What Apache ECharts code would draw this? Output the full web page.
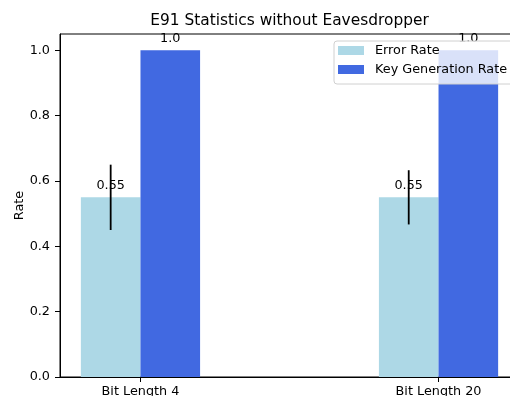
<!DOCTYPE html>
<html>
<head>
<meta charset="utf-8">
<script src="https://cdn.jsdelivr.net/npm/echarts@6/dist/echarts.min.js"></script>
<style>
  html, body { margin: 0; padding: 0; background: #fff; overflow: hidden; width: 510px; height: 396px; }
  /* the figure is wider than the window; its right part falls outside the view */
  #chart { width: 560px; height: 396px; }
</style>
</head>
<body>
<div id="chart"></div>
<script>
// Categories and measured rates
const categories = ['Bit Length 4', 'Bit Length 20'];
const errorRate = [0.55, 0.55];
const errorRateStd = [0.10, 0.083];
const keyGenRate = [1.0, 1.0];
const yTickValues = [0, 0.2, 0.4, 0.6, 0.8, 1.0];

// Bar geometry in category units (centre of each group at its index)
const barUnits = 0.2;
const xMin = -0.27, xMax = 1.27;
const gridLeft = 60, gridTop = 34, gridWidth = 459, gridHeight = 343;
const barPx = barUnits * gridWidth / (xMax - xMin);

const FONT = 'DejaVu Sans';
const FS = 12.8;
const fmtVal = v => Number.isInteger(v) ? v.toFixed(1) : String(v);

const errData = errorRate.map((v, i) => [i - barUnits / 2, v]);
const keyData = keyGenRate.map((v, i) => [i + barUnits / 2, v]);
const errBars = errorRate.map((v, i) => [i - barUnits / 2, v - errorRateStd[i], v + errorRateStd[i]]);

const chart = echarts.init(document.getElementById('chart'), null, { renderer: 'canvas' });
chart.setOption({
  animation: false,
  backgroundColor: '#fff',
  textStyle: { fontFamily: FONT },
  title: {
    text: 'E91 Statistics without Eavesdropper',
    left: 284.5,
    textAlign: 'center',
    top: 8,
    textStyle: { fontFamily: FONT, fontSize: 15.4, fontWeight: 'normal', color: '#000' }
  },
  // legend frame, semi-transparent over the bars
  graphic: [{
    type: 'rect',
    z: 3,
    shape: { x: 334, y: 41, width: 190, height: 43, r: 3 },
    style: { fill: 'rgba(255,255,255,0.8)', stroke: '#d0d0d0', lineWidth: 1 }
  }],
  legend: {
    left: 334,
    top: 41,
    orient: 'vertical',
    data: ['Error Rate', 'Key Generation Rate'],
    icon: 'rect',
    itemWidth: 26,
    itemHeight: 9,
    itemGap: 6,
    padding: [3, 0, 6, 4],
    textStyle: { fontFamily: FONT, fontSize: FS, color: '#000', padding: [0, 0, 0, 6] }
  },
  grid: {
    left: gridLeft, top: gridTop, width: gridWidth, height: gridHeight,
    outerBoundsMode: 'none',
    containLabel: false,
    show: true, borderColor: '#000', borderWidth: 1, backgroundColor: 'transparent'
  },
  xAxis: {
    type: 'value',
    min: xMin,
    max: xMax,
    splitLine: { show: false },
    axisLine: { show: true, onZero: false, lineStyle: { color: '#000', width: 1 } },
    axisTick: { show: true, length: 5, customValues: [0, 1], lineStyle: { color: '#000' } },
    axisLabel: {
      customValues: [0, 1],
      margin: 8,
      fontFamily: FONT, fontSize: FS, color: '#000',
      formatter: v => categories[Math.round(v)]
    }
  },
  yAxis: {
    type: 'value',
    min: 0,
    max: 1.05,
    name: 'Rate',
    nameLocation: 'middle',
    nameGap: 34,
    nameMoveOverlap: false,
    nameTextStyle: { fontFamily: FONT, fontSize: FS, color: '#000' },
    splitLine: { show: false },
    axisLine: { show: true, onZero: false, lineStyle: { color: '#000', width: 1 } },
    axisTick: { show: true, length: 5, customValues: yTickValues, lineStyle: { color: '#000' } },
    axisLabel: {
      customValues: yTickValues,
      margin: 10,
      fontFamily: FONT, fontSize: FS, color: '#000',
      formatter: v => v.toFixed(1)
    }
  },
  series: [
    {
      name: 'Error Rate',
      type: 'bar',
      data: errData,
      barWidth: barPx,
      barGap: '-100%',
      itemStyle: { color: '#ADD8E6' },
      label: {
        show: true, position: 'top', distance: 5,
        fontFamily: FONT, fontSize: FS, color: '#000',
        formatter: p => fmtVal(p.value[1])
      }
    },
    {
      name: 'Key Generation Rate',
      type: 'bar',
      data: keyData,
      barWidth: barPx,
      barGap: '-100%',
      itemStyle: { color: '#4169E1' },
      label: {
        show: true, position: 'top', distance: 5,
        fontFamily: FONT, fontSize: FS, color: '#000',
        formatter: p => fmtVal(p.value[1])
      }
    },
    {
      name: 'errorbars',
      type: 'custom',
      z: 5,
      data: errBars,
      encode: { x: 0, y: [1, 2] },
      renderItem: (params, api) => {
        const x = api.value(0);
        const lo = api.coord([x, api.value(1)]);
        const hi = api.coord([x, api.value(2)]);
        return {
          type: 'line',
          shape: { x1: lo[0], y1: lo[1], x2: hi[0], y2: hi[1] },
          style: { stroke: '#000', lineWidth: 1.8 }
        };
      }
    }
  ]
});
</script>
</body>
</html>
